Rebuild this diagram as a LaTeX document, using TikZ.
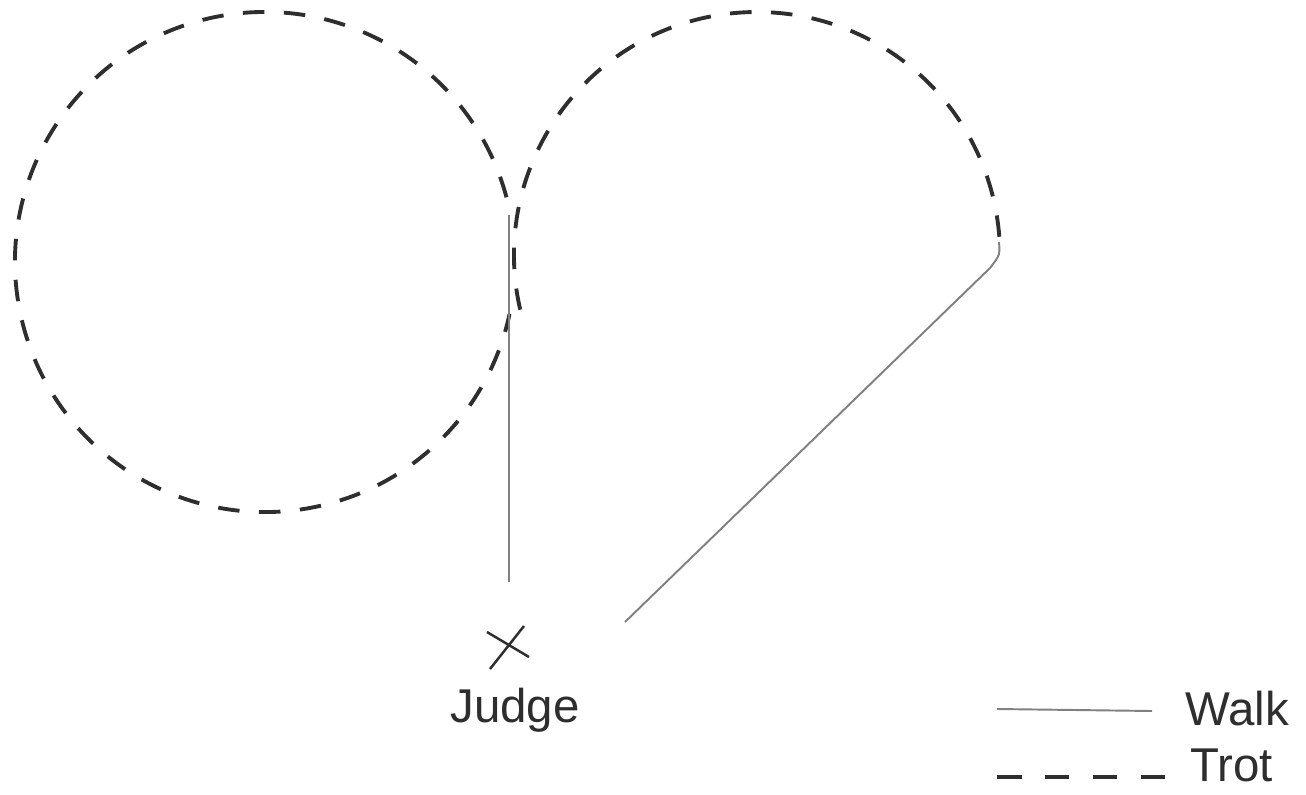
\documentclass[tikz,border=0pt]{standalone}
\usepackage{fontspec}
\setmainfont{Liberation Sans}
\usetikzlibrary{positioning}
\definecolor{ink}{HTML}{2E2E2E}
\definecolor{pencil}{HTML}{808080}
\tikzset{line cap=round,
  trot/.style={draw=ink,line width=2.2pt,dash pattern=on .43cm off .39cm},
  trotkey/.style={trot,dash pattern=on .49cm off .47cm},
  walk/.style={draw=pencil,line width=1.1pt},
  cross/.style={draw=ink,line width=1.4pt},
  hand/.style={font=\fontsize{27}{27}\selectfont,text=ink,inner sep=0pt}}
\begin{document}
\begin{tikzpicture}[x=.02cm,y=-.02cm]
\path[use as bounding box] (0,0) rectangle (1306,795);
% centres and turning points
\coordinate (leftC) at (265,262);\coordinate (rightC) at (757,255);
\coordinate (centreTop) at (509,215);\coordinate (centreEnd) at (509,582);
\coordinate (bendTop) at (999,242);\coordinate (diagEnd) at (625,622);
% the two trot circles
\draw[trot] (leftC) ++(-15:250) arc[start angle=-15,end angle=-348,radius=250];
\draw[trot] (rightC) ++(167:243) arc[start angle=167,end angle=358,radius=243];
% walk lines
\draw[walk] (centreTop) -- (centreEnd);
\draw[walk] (bendTop) .. controls (1000,255) .. (990,268) -- (diagEnd);
% judge
\coordinate (judgeX) at (508,648);
\draw[cross] (487,632) -- (529,657) (524,626) -- (490,669);
\node[hand,anchor=base] (judge) at (515,722) {Judge};
% legend
\node[hand,anchor=base west] (walkLabel) at (1185,725) {Walk};
\node[hand,anchor=base west] (trotLabel) at (1190,781) {Trot};
\coordinate (walkKeyA) at (997,709);\coordinate (walkKeyB) at (1152,711);
\coordinate (trotKeyA) at (997,777);\coordinate (trotKeyB) at (1165,777);
\draw[walk] (walkKeyA) -- (walkKeyB);
\draw[trotkey] (trotKeyA) -- (trotKeyB);
\end{tikzpicture}
\end{document}
